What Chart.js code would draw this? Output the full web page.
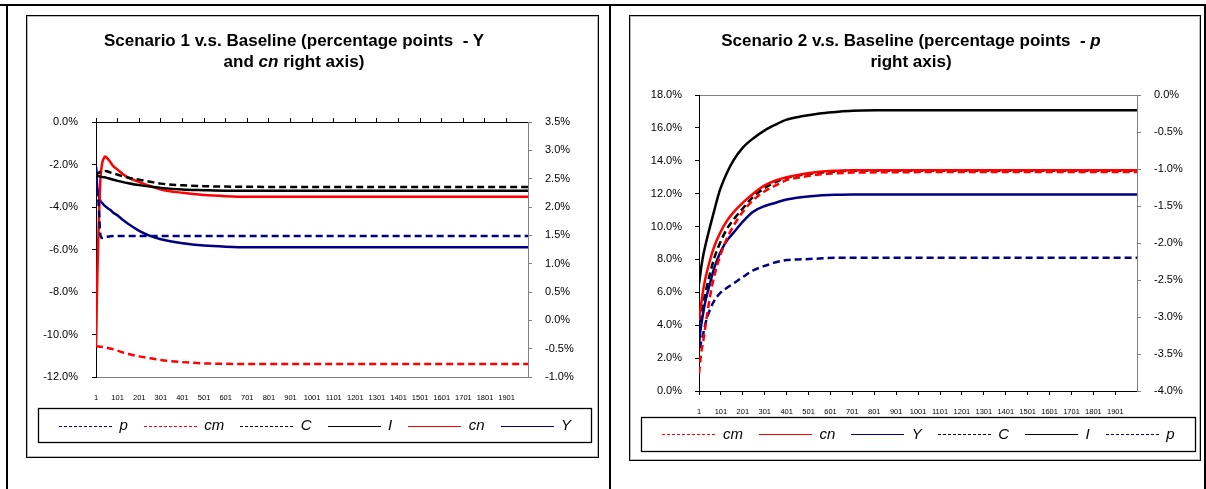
<!DOCTYPE html>
<html><head><meta charset="utf-8">
<script src="https://cdn.jsdelivr.net/npm/chart.js@4.4.1/dist/chart.umd.min.js"></script>
<style>
html,body{margin:0;padding:0;background:#fff;}
body{width:1206px;height:489px;position:relative;overflow:hidden;font-family:"Liberation Sans",Arial,sans-serif;}
.ln{position:absolute;background:#000;}
.box{position:absolute;border:1px solid #000;box-shadow:inset 0 0 0 1px #b8b8b8;box-sizing:border-box;pointer-events:none;}
canvas{position:absolute;}
.title{position:absolute;font-weight:bold;font-size:17px;line-height:21px;text-align:center;color:#000;white-space:nowrap;}
</style></head><body>
<div class="ln" style="left:0;top:4px;width:1206px;height:2px"></div>
<div class="ln" style="left:6px;top:4px;width:2px;height:485px"></div>
<div class="ln" style="left:609px;top:4px;width:2px;height:485px"></div>
<div class="ln" style="left:1204px;top:4px;width:2px;height:485px"></div>

<canvas id="c1" width="573" height="443" style="left:26px;top:15px;width:573px;height:443px"></canvas>
<div class="box" style="left:26px;top:15px;width:573px;height:443px"></div>
<div class="title" style="left:94px;top:30px;width:400px">Scenario 1 v.s. Baseline (percentage points &nbsp;- Y<br>and <i>cn</i> right axis)</div>

<canvas id="c2" width="572" height="446" style="left:629px;top:15px;width:572px;height:446px"></canvas>
<div class="box" style="left:629px;top:15px;width:572px;height:446px"></div>
<div class="title" style="left:711px;top:30px;width:400px">Scenario 2 v.s. Baseline (percentage points &nbsp;- <i>p</i><br>right axis)</div>

<script>
// ---- shared x axis ----
const xTickValues = [1,101,201,301,401,501,601,701,801,901,1001,1101,1201,1301,1401,1501,1601,1701,1801,1901];
const xTickLabels = ['1','101','201','301','401','501','601','701','801','901','1001','1101','1201','1301','1401','1501','1601','1701','1801','1901'];

// ---- chart 1 (Scenario 1) ----
const t1 = [1,3,5,8,12,16,20,25,30,36,42,51,66,81,101,126,151,201,251,301,401,501,601,701,1001,1501,2000];
const s1_p  = [-2.1,-2.5,-2.9,-3.3,-3.7,-4.4,-5.2,-5.42,-5.46,-5.46,-5.44,-5.4,-5.38,-5.37,-5.37,-5.37,-5.37,-5.37,-5.37,-5.37,-5.37,-5.37,-5.37,-5.37,-5.37,-5.37,-5.37];
const s1_cm = [-10.55,-10.55,-10.56,-10.56,-10.57,-10.57,-10.58,-10.58,-10.59,-10.59,-10.6,-10.62,-10.66,-10.7,-10.76,-10.85,-10.92,-11.03,-11.12,-11.2,-11.3,-11.36,-11.38,-11.39,-11.39,-11.39,-11.39];
const s1_C  = [-2.55,-2.5,-2.47,-2.43,-2.4,-2.37,-2.35,-2.32,-2.3,-2.3,-2.3,-2.32,-2.37,-2.42,-2.48,-2.56,-2.62,-2.72,-2.81,-2.9,-2.98,-3.02,-3.04,-3.05,-3.06,-3.06,-3.06];
const s1_I  = [-2.5,-2.52,-2.53,-2.54,-2.55,-2.56,-2.57,-2.58,-2.59,-2.6,-2.6,-2.63,-2.67,-2.72,-2.77,-2.83,-2.88,-2.97,-3.04,-3.1,-3.18,-3.21,-3.23,-3.23,-3.23,-3.23,-3.23];
const s1_cn = [-0.46,-0.1,0.4,0.9,1.5,1.95,2.4,2.65,2.78,2.85,2.89,2.87,2.8,2.72,2.66,2.58,2.52,2.44,2.37,2.31,2.25,2.21,2.19,2.18,2.18,2.18,2.18];
const s1_Y  = [2.7,2.55,2.42,2.3,2.22,2.16,2.12,2.09,2.07,2.04,2.02,1.99,1.95,1.9,1.85,1.77,1.7,1.58,1.49,1.43,1.36,1.32,1.3,1.29,1.29,1.29,1.29];
const left1Ticks  = [-12,-10,-8,-6,-4,-2,0];
const right1Ticks = [-1,-0.5,0,0.5,1,1.5,2,2.5,3,3.5];

// ---- chart 2 (Scenario 2) ----
const t2 = [1,6,11,21,31,51,71,96,126,157,201,248,301,351,401,476,551,626,701,851,1001,1501,2000];
const s2_cm = [1.06,1.7,2.3,3.1,4.0,5.72,7.0,8.16,9.2,10.0,10.9,11.6,12.15,12.5,12.82,13.02,13.17,13.24,13.28,13.3,13.31,13.31,13.31];
const s2_cn = [4.3,4.8,5.3,6.2,6.9,7.95,8.8,9.58,10.3,10.85,11.45,12.0,12.5,12.8,13.0,13.2,13.33,13.39,13.42,13.43,13.43,13.43,13.43];
const s2_Y  = [2.8,3.5,4.0,4.8,5.5,6.54,7.5,8.36,9.1,9.6,10.3,10.9,11.25,11.45,11.65,11.8,11.89,11.93,11.95,11.95,11.95,11.95,11.95];
const s2_C  = [3.5,4.1,4.6,5.4,6.0,7.14,8.1,8.97,9.8,10.4,11.1,11.81,12.35,12.7,12.95,13.15,13.28,13.35,13.4,13.4,13.4,13.4,13.4];
const s2_I  = [6.5,7.0,7.5,8.3,8.9,9.98,11.0,12.2,13.2,14.0,14.8,15.36,15.85,16.2,16.5,16.72,16.88,16.97,17.04,17.07,17.08,17.08,17.08];
const s2_p  = [-3.42,-3.4,-3.33,-3.22,-3.08,-2.9,-2.78,-2.68,-2.61,-2.55,-2.46,-2.37,-2.31,-2.26,-2.23,-2.22,-2.21,-2.2,-2.2,-2.2,-2.2,-2.2,-2.2];
const left2Ticks  = [0,2,4,6,8,10,12,14,16,18];
const right2Ticks = [-4,-3.5,-3,-2.5,-2,-1.5,-1,-0.5,0];

const NAVY = '#000080', RED = '#ff0000', BLACK = '#000000';
const FAMILY = "'Liberation Sans', Arial, sans-serif";
const LEG_PAD = 16, SAMPLE_W = 53, CANVAS_TOP = 15;
Chart.defaults.font.family = FAMILY;
Chart.defaults.color = '#000';

function pts(ts, vs){ return ts.map((t,i)=>({x:t, y:vs[i]})); }
function ds(label, ts, vs, color, dashed, axis){
  return {label, data:pts(ts,vs), borderColor:color, backgroundColor:color, borderWidth:2.5,
    borderDash: dashed ? [7,4] : [], pointRadius:0, fill:false, cubicInterpolationMode:'monotone',
    yAxisID:axis, xAxisID:'x'};
}
const fmt = v => Number(v).toFixed(1) + '%';
const setTicks = arr => (s => { s.ticks = arr.map(v => ({value:v})); });

// frame around the legend + the line samples (drawn from the legend's own item boxes)
const legendFrame = {
  id:'legendFrame',
  afterDraw(chart){
    const l = chart.legend; if(!l) return;
    const ctx = chart.ctx; ctx.save();
    ctx.strokeStyle = '#000'; ctx.lineWidth = 1.3; ctx.setLineDash([]);
    const top = l.top + LEG_PAD - 10;
    ctx.strokeRect(Math.round(l.left)+0.5, Math.round(top)+0.5, Math.round(l.width)-1, Math.round(l.bottom - top)-1);
    (l.legendItems || []).forEach((it, i) => {
      const hb = l.legendHitBoxes[i]; if (!hb) return;
      const d = chart.data.datasets[it.datasetIndex];
      let r = Math.round(hb.top + hb.height / 2);
      if ((r + CANVAS_TOP) % 2) r -= 1;
      const y = r + 0.5;
      ctx.beginPath();
      ctx.strokeStyle = d.borderColor; ctx.lineWidth = 1;
      ctx.setLineDash(d.borderDash.length ? [3,2] : []);
      ctx.moveTo(Math.round(hb.left), y); ctx.lineTo(Math.round(hb.left) + SAMPLE_W, y);
      ctx.stroke();
    });
    ctx.restore();
  }
};

function legendOpts(){
  return {position:'bottom', align:'center',
    labels:{usePointStyle:true, pointStyle:'line', pointStyleWidth:SAMPLE_W, boxWidth:SAMPLE_W, boxHeight:2,
      padding:LEG_PAD, color:'#000',
      font:{size:15, style:'italic', family:FAMILY},
      generateLabels: chart => chart.data.datasets.map((d,i)=>({
        text:d.label, fillStyle:'rgba(0,0,0,0)', strokeStyle:'rgba(0,0,0,0)', lineWidth:0, pointStyle:'line',
        hidden:false, datasetIndex:i, fontColor:'#000'}))}};
}

function xScale(pos, borderColor, drawTicks, h, showLabels){
  return {type:'linear', position:pos, min:1, max:2000,
    afterBuildTicks:setTicks(xTickValues),
    // mirror + negative padding places the labels 21px below the axis without clipping
    ticks:{display:showLabels, mirror:true, padding:-25.5, autoSkip:false, maxRotation:0, minRotation:0,
      font:{size:7.5}, color:'#000', callback:(v,i)=>xTickLabels[i]},
    grid:{display:true, drawOnChartArea:false, drawTicks:drawTicks, tickLength:4, color:'#000'},
    border:{display:true, color:borderColor, width:1},
    afterFit: s => { s.height = h; }};
}
function yScale(pos, min, max, ticksArr, color, w, padding){
  return {type:'linear', position:pos, min:min, max:max,
    afterBuildTicks:setTicks(ticksArr),
    ticks:{padding:padding, font:{size:11}, color:'#000', callback:fmt},
    grid:{display:true, drawOnChartArea:false, drawTicks:true, tickLength:4, color:color},
    border:{display:true, color:color, width:1},
    afterFit: s => { s.width = w; }};
}

new Chart(document.getElementById('c1'), {
  type:'line',
  data:{datasets:[
    ds('p',  t1, s1_p,  NAVY,  true,  'yL'),
    ds('cm', t1, s1_cm, RED,   true,  'yL'),
    ds('C',  t1, s1_C,  BLACK, true,  'yL'),
    ds('I',  t1, s1_I,  BLACK, false, 'yL'),
    ds('cn', t1, s1_cn, RED,   false, 'yR'),
    ds('Y',  t1, s1_Y,  NAVY,  false, 'yR')
  ]},
  options:{responsive:false, animation:false, events:[],
    layout:{padding:{top:107, left:12, right:7, bottom:15}},
    plugins:{legend:legendOpts(), title:{display:false}, tooltip:{enabled:false}},
    scales:{
      x:  xScale('bottom', '#808080', false, 25, true),
      x2: xScale('top', '#000', true, 0, false),
      yL: yScale('left', -12, 0, left1Ticks, '#000', 58, 14),
      yR: yScale('right', -1, 3.5, right1Ticks, '#808080', 64, 13)
    }},
  plugins:[legendFrame]
});

new Chart(document.getElementById('c2'), {
  type:'line',
  data:{datasets:[
    ds('cm', t2, s2_cm, RED,   true,  'yL'),
    ds('cn', t2, s2_cn, RED,   false, 'yL'),
    ds('Y',  t2, s2_Y,  NAVY,  false, 'yL'),
    ds('C',  t2, s2_C,  BLACK, true,  'yL'),
    ds('I',  t2, s2_I,  BLACK, false, 'yL'),
    ds('p',  t2, s2_p,  NAVY,  true,  'yR')
  ]},
  options:{responsive:false, animation:false, events:[],
    layout:{padding:{top:80, left:12, right:5, bottom:9}},
    plugins:{legend:legendOpts(), title:{display:false}, tooltip:{enabled:false}},
    scales:{
      x:  xScale('bottom', '#000', true, 20, true),
      x2: xScale('top', '#808080', false, 0, false),
      yL: yScale('left', 0, 18, left2Ticks, '#000', 58, 13),
      yR: yScale('right', -4, 0, right2Ticks, '#808080', 59, 13)
    }},
  plugins:[legendFrame]
});
</script>
</body></html>
